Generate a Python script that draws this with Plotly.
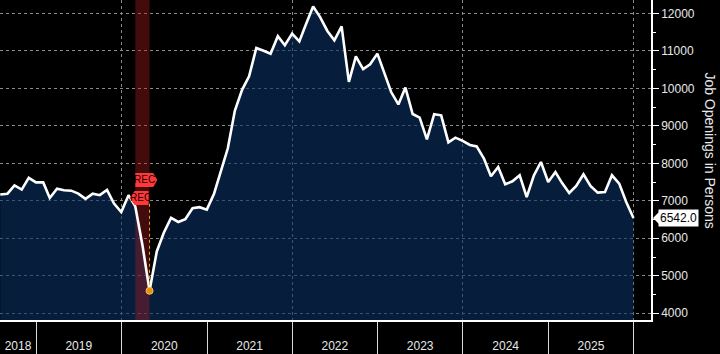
import pandas as pd
import plotly.graph_objects as go

# ---------------- data ----------------
first_month = "2018-07"
job_openings = [
    # 2018 Jul-Dec
    7170, 7190, 7410, 7300, 7610, 7490,
    # 2019
    7490, 7075, 7320, 7280, 7270, 7190, 7050, 7190, 7150, 7290, 6925, 6700,
    # 2020
    7150, 6850, 5800, 4600, 5650, 6150, 6545, 6435, 6510, 6800, 6830, 6765,
    # 2021
    7190, 7760, 8400, 9400, 9960, 10320, 11075, 11000, 10920, 11390, 11150, 11460,
    # 2022
    11250, 11700, 12180, 11900, 11530, 11280, 11650, 10170, 10850, 10510, 10640, 10925,
    # 2023
    10400, 9900, 9570, 10020, 9315, 9220, 8640, 9310, 9280, 8560, 8685, 8600,
    # 2024
    8490, 8450, 8125, 7653, 7900, 7440, 7520, 7680, 7100, 7680, 8035, 7500,
    # 2025
    7768, 7480, 7208, 7395, 7707, 7395, 7218, 7235, 7680, 7458, 6968, 6542,
]
recession_start = "2020-02-29"
recession_end = "2020-04-30"
year_labels = ["2018", "2019", "2020", "2021", "2022", "2023", "2024", "2025"]
y_title = "Job Openings in Persons"
flag_text = "REC"

x_range = ["2018-07-30", "2026-03-16"]
y_range = [3821, 12355]

dates = (pd.period_range(first_month, periods=len(job_openings), freq="M")
         .to_timestamp(how="end").normalize())
date_str = [d.strftime("%Y-%m-%d") for d in dates]

# label positions: middle of the visible part of each year
r0, r1 = pd.Timestamp(x_range[0]), pd.Timestamp(x_range[1])
label_pos = []
for y in year_labels:
    a = max(pd.Timestamp(f"{y}-01-01"), r0)
    b = min(pd.Timestamp(f"{int(y)+1}-01-01"), r1)
    label_pos.append((a + (b - a) / 2).strftime("%Y-%m-%d"))

i_min = job_openings.index(min(job_openings))

NAVY_FILL = "rgba(10,48,100,0.6)"
GRID = "#8a8a8a"
TXT = "#e8e8e8"

fig = go.Figure()
# area fill
fig.add_trace(go.Scatter(x=date_str, y=job_openings, mode="lines",
                         line=dict(width=0), fill="tozeroy",
                         fillcolor=NAVY_FILL, hoverinfo="skip"))
# recession band
fig.add_trace(go.Scatter(
    x=[recession_start, recession_start, recession_end, recession_end],
    y=[y_range[0], y_range[1], y_range[1], y_range[0]],
    mode="lines", line=dict(width=0), fill="toself",
    fillcolor="rgba(175,30,30,0.38)", hoverinfo="skip"))
# main line
fig.add_trace(go.Scatter(x=date_str, y=job_openings, mode="lines",
                         line=dict(color="white", width=2.6)))
# orange dotted event line and dot at trough
fig.add_trace(go.Scatter(x=[date_str[i_min], date_str[i_min]],
                         y=[job_openings[i_min], 6980], mode="lines",
                         line=dict(color="#f5a623", width=1, dash="dot"),
                         hoverinfo="skip"))
fig.add_trace(go.Scatter(x=[date_str[i_min]], y=[job_openings[i_min]],
                         mode="markers", xaxis="x2",
                         marker=dict(color="#e8900c", size=7,
                                     line=dict(color="#ffc060", width=1))))

shapes = []
# REC flags
shapes.append(dict(type="path", xref="x", yref="y", xsizemode="pixel",
                   ysizemode="pixel", xanchor=recession_start, yanchor=7555,
                   path="M 0,-7 L 18,-7 L 22,0 L 18,7 L 0,7 Z",
                   fillcolor="#ff3838", line=dict(width=0), layer="above"))
shapes.append(dict(type="path", xref="x", yref="y", xsizemode="pixel",
                   ysizemode="pixel", xanchor=recession_end, yanchor=7075,
                   path="M -1,-7 L -15,-7 L -20,0 L -15,7 L -1,7 Z",
                   fillcolor="#ff3838", line=dict(width=0), layer="above"))
# last value pointer
shapes.append(dict(type="path", xref="paper", yref="y", xsizemode="pixel",
                   ysizemode="pixel", xanchor=1, yanchor=job_openings[-1],
                   path="M 2,0 L 8,-6 L 8,6 Z",
                   fillcolor="white", line=dict(width=0), layer="above"))

annotations = [
    dict(x=recession_start, y=7555, xref="x", yref="y", text=flag_text,
         showarrow=False, xshift=9.5, xanchor="center",
         font=dict(size=10, color="#1a0000")),
    dict(x=recession_end, y=7075, xref="x", yref="y", text=flag_text,
         showarrow=False, xshift=-9.5, xanchor="center",
         font=dict(size=10, color="#1a0000")),
    dict(x=1, y=job_openings[-1], xref="paper", yref="y",
         text=f"{job_openings[-1]:.1f}", showarrow=False, xanchor="left",
         xshift=7, bgcolor="white", borderpad=1,
         font=dict(size=12, color="black")),
    dict(x=1, y=0.53, xref="paper", yref="paper", text=y_title,
         showarrow=False, textangle=90, xanchor="center", xshift=59,
         font=dict(size=14, color=TXT)),
]

fig.update_layout(
    width=720, height=354,
    margin=dict(l=0, r=69, t=0, b=34),
    paper_bgcolor="black", plot_bgcolor="black",
    showlegend=False,
    font=dict(family="Liberation Sans, Arial, sans-serif", size=12, color=TXT),
    shapes=shapes, annotations=annotations,
    xaxis=dict(type="date", range=x_range, showgrid=True, gridcolor=GRID,
               griddash="dot", gridwidth=1, tick0="2020-01-01", dtick="M24",
               ticks="outside", ticklen=34, tickcolor="#d8d8d8", tickwidth=1,
               showticklabels=False, showline=True, linecolor="white",
               linewidth=1.5, zeroline=False,
               minor=dict(dtick="M12", tick0="2019-01-01", ticks="outside",
                          ticklen=34, tickcolor="#d8d8d8", tickwidth=1,
                          showgrid=False)),
    xaxis2=dict(type="date", range=x_range, overlaying="x", anchor="y",
                side="bottom", tickmode="array", tickvals=label_pos,
                ticktext=year_labels, ticks="outside", ticklen=15,
                tickcolor="rgba(0,0,0,0)", showgrid=False, showline=False,
                zeroline=False, tickfont=dict(size=12, color=TXT)),
    yaxis=dict(side="right", range=y_range, tick0=0, dtick=1000,
               tickformat="d",
               showgrid=True, gridcolor=GRID, griddash="dot", gridwidth=1,
               ticks="outside", ticklen=6, tickcolor="white", showline=True,
               linecolor="white", linewidth=1.5, zeroline=False,
               tickfont=dict(size=12, color=TXT),
               minor=dict(dtick=500, ticks="outside", ticklen=3,
                          tickcolor="white", showgrid=False)),
)

fig.write_html("out.html")
